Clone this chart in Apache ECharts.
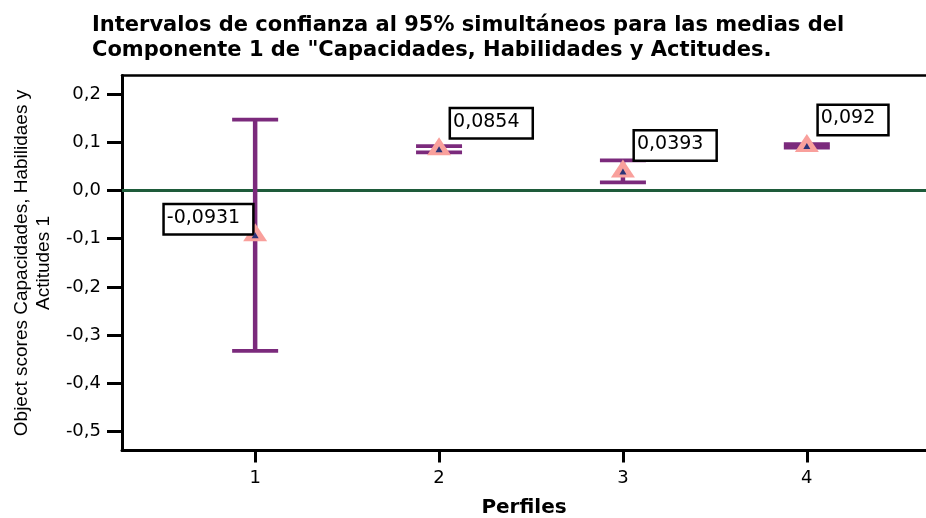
<!DOCTYPE html>
<html><head><meta charset="utf-8">
<script src="https://cdn.jsdelivr.net/npm/echarts@6/dist/echarts.min.js"></script>
<style>html,body{margin:0;padding:0;background:#fff}#c{width:926px;height:518px}</style>
</head><body><div id="c"></div>
<script>
const categories = [1, 2, 3, 4];
const means = [-0.0931, 0.0854, 0.0393, 0.092];
const lowers = [-0.3326, 0.0788, 0.0165, 0.0885];
const uppers = [0.1464, 0.0918, 0.0621, 0.0955];
const meanLabels = ['-0,0931', '0,0854', '0,0393', '0,092'];
const yTicks = [-0.5, -0.4, -0.3, -0.2, -0.1, 0.0, 0.1, 0.2];
const xTicks = [1, 2, 3, 4];
const refLine = 0;

const X_MIN = 0.276, X_MAX = 4.648, Y_MIN = -0.539, Y_MAX = 0.238;
const PURPLE = '#7b2a7c', PINK = '#f9a09c', NAVY = '#2b3377', GREEN = '#1e5b3a';
const fmt = v => (Math.round(v * 10) / 10).toFixed(1).replace('.', ',');

const chart = echarts.init(document.getElementById('c'), null, {renderer: 'canvas'});

const errData = categories.map((c, i) => [c, lowers[i], uppers[i]]);
const meanData = categories.map((c, i) => {
  const d = {value: [c, means[i]], label: {formatter: meanLabels[i]}};
  if (i === 0) {
    d.label.position = [9, 10];
    d.label.align = 'right';
  }
  return d;
});
const innerData = categories.map((c, i) => [c, means[i]]);

chart.setOption({
  animation: false,
  backgroundColor: '#fff',
  title: {
    text: 'Intervalos de confianza al 95% simultáneos para las medias del\nComponente 1 de "Capacidades, Habilidades y Actitudes.',
    left: 92, top: 13, padding: 0,
    textStyle: {fontFamily: 'DejaVu Sans', fontWeight: 'bold', fontSize: 21, lineHeight: 25, color: '#000'}
  },
  grid: {left: 122, right: 0, top: 75.5, bottom: 67.5, containLabel: false, outerBoundsMode: 'none'},
  xAxis: [{
    type: 'value', min: X_MIN, max: X_MAX,
    name: 'Perfiles', nameLocation: 'middle', nameGap: 47,
    nameTextStyle: {fontFamily: 'DejaVu Sans', fontWeight: 'bold', fontSize: 20, color: '#000'},
    axisLine: {show: true, onZero: false, lineStyle: {color: '#000', width: 3}},
    axisTick: {show: true, length: 12, lineStyle: {color: '#000', width: 3}, customValues: xTicks},
    axisLabel: {show: true, margin: 19, fontFamily: 'DejaVu Sans', fontSize: 18, color: '#000', customValues: xTicks, formatter: v => String(v)},
    splitLine: {show: false}
  }, {
    type: 'value', position: 'top', min: X_MIN, max: X_MAX,
    axisLine: {show: true, onZero: false, lineStyle: {color: '#000', width: 2.5}},
    axisTick: {show: false}, axisLabel: {show: false}, splitLine: {show: false}
  }],
  yAxis: {
    type: 'value', min: Y_MIN, max: Y_MAX,
    name: 'Object scores Capacidades, Habilidaes y\nActitudes 1',
    nameLocation: 'middle', nameGap: 66, nameRotate: 90,
    nameTextStyle: {fontFamily: '"Liberation Sans", Arial, sans-serif', fontSize: 19, lineHeight: 22, color: '#000'},
    axisLine: {show: true, onZero: false, lineStyle: {color: '#000', width: 3}},
    axisTick: {show: true, length: 15, lineStyle: {color: '#000', width: 3}, customValues: yTicks},
    axisLabel: {show: true, margin: 21, fontFamily: 'DejaVu Sans', fontSize: 18, color: '#000', customValues: yTicks, formatter: fmt},
    splitLine: {show: false}
  },
  series: [{
    type: 'custom',
    data: errData,
    encode: {x: 0, y: [1, 2]},
    z: 3,
    renderItem: function (params, api) {
      const x = api.value(0), lo = api.value(1), hi = api.value(2);
      const pLo = api.coord([x, lo]), pHi = api.coord([x, hi]);
      const hw = 23;
      return {
        type: 'group',
        children: [
          {type: 'line', shape: {x1: pLo[0], y1: pLo[1], x2: pHi[0], y2: pHi[1]}, style: {stroke: PURPLE, lineWidth: 4.5}},
          {type: 'line', shape: {x1: pHi[0] - hw, y1: pHi[1], x2: pHi[0] + hw, y2: pHi[1]}, style: {stroke: PURPLE, lineWidth: 3.8}},
          {type: 'line', shape: {x1: pLo[0] - hw, y1: pLo[1], x2: pLo[0] + hw, y2: pLo[1]}, style: {stroke: PURPLE, lineWidth: 3.8}}
        ]
      };
    }
  }, {
    type: 'scatter',
    data: meanData,
    symbol: 'triangle',
    symbolSize: [24, 18],
    symbolOffset: [0, -3],
    itemStyle: {color: PINK, opacity: 1},
    z: 4,
    label: {
      show: true, position: [24, 0], align: 'left', verticalAlign: 'bottom',
      fontFamily: 'DejaVu Sans', fontSize: 19, lineHeight: 19, color: '#000',
      backgroundColor: '#fff', borderColor: '#000', borderWidth: 2.5,
      padding: [3, 12, 6, 2]
    },
    markLine: {
      silent: true, symbol: 'none', z: 2,
      label: {show: false},
      lineStyle: {color: GREEN, width: 3, type: 'solid'},
      data: [{yAxis: refLine}]
    }
  }, {
    type: 'scatter',
    data: innerData,
    symbol: 'triangle',
    symbolSize: [7, 6],
    itemStyle: {color: NAVY, opacity: 1},
    z: 5
  }]
});
</script>
</body></html>
